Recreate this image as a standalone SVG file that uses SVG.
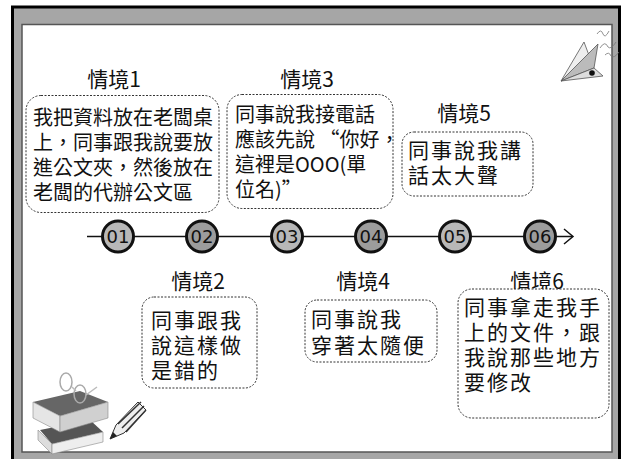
<svg xmlns="http://www.w3.org/2000/svg" width="625" height="459" viewBox="0 0 625 459">
  <style>
    .lbl { font-family: "Noto Sans CJK TC", "Noto Sans CJK SC", sans-serif; font-size: 21px; fill: #111; text-anchor: middle; }
    .txt { font-family: "Noto Sans CJK TC", "Noto Sans CJK SC", sans-serif; font-size: 20px; fill: #111; }
    .big { font-size: 21px; letter-spacing: 2px; }
    .box { fill: #fff; stroke: #333; stroke-width: 1; stroke-dasharray: 2 1.5; }
    .dot { stroke: #111; stroke-width: 3; }
    .light { fill: #b8b8b8; }
    .dark { fill: #9c9c9c; }
    .num { font-family: "DejaVu Sans", "Noto Sans", sans-serif; font-size: 18px; fill: #111; text-anchor: middle; }
  </style>

  <!-- frame -->
  <rect x="12.5" y="7" width="607" height="470" fill="#a6a6a6" stroke="#000" stroke-width="3"/>
  <rect x="22" y="24.5" width="590" height="427.5" fill="#fff" stroke="#555" stroke-width="1.5"/>

  <!-- connectors: timeline -->
  <g id="connectors">
    <line x1="87" y1="236.5" x2="572" y2="236.5" stroke="#111" stroke-width="1.5"/>
    <polyline points="564,229 573,236.5 564,244" fill="none" stroke="#111" stroke-width="1.5"/>
  </g>

  <g id="step01"><circle class="dot light" cx="118" cy="236.5" r="15.5"/><text class="num" x="118" y="243">01</text></g>
  <g id="step02"><circle class="dot dark" cx="202" cy="236.5" r="15.5"/><text class="num" x="202" y="243">02</text></g>
  <g id="step03"><circle class="dot light" cx="287" cy="236.5" r="15.5"/><text class="num" x="287" y="243">03</text></g>
  <g id="step04"><circle class="dot dark" cx="371" cy="236.5" r="15.5"/><text class="num" x="371" y="243">04</text></g>
  <g id="step05"><circle class="dot light" cx="455" cy="236.5" r="15.5"/><text class="num" x="455" y="243">05</text></g>
  <g id="step06"><circle class="dot dark" cx="540" cy="236.5" r="15.5"/><text class="num" x="540" y="243">06</text></g>

  <g id="case1">
    <text class="lbl" x="114" y="87">情境1</text>
    <rect class="box" x="26" y="95.5" width="193" height="117" rx="15"/>
    <text class="txt" x="33" y="125"><tspan x="33">我把資料放在老闆桌</tspan><tspan x="33" dy="25">上，同事跟我說要放</tspan><tspan x="33" dy="25">進公文夾，然後放在</tspan><tspan x="33" dy="25">老闆的代辦公文區</tspan></text>
  </g>

  <g id="case3">
    <text class="lbl" x="307" y="87">情境3</text>
    <rect class="box" x="227" y="94.5" width="166" height="114" rx="15"/>
    <text class="txt" x="235" y="122"><tspan x="235">同事說我接電話</tspan><tspan x="235" dy="25">應該先說 “你好，</tspan><tspan x="235" dy="25">這裡是OOO(單</tspan><tspan x="235" dy="25">位名)”</tspan></text>
  </g>

  <g id="case5">
    <text class="lbl" x="464" y="121">情境5</text>
    <rect class="box" x="402" y="132" width="131" height="64" rx="12"/>
    <text class="txt big" x="408" y="158"><tspan x="408">同事說我講</tspan><tspan x="408" dy="25">話太大聲</tspan></text>
  </g>

  <g id="case2">
    <text class="lbl" x="198" y="289">情境2</text>
    <rect class="box" x="142" y="297" width="115" height="91" rx="12"/>
    <text class="txt big" x="151" y="328"><tspan x="151">同事跟我</tspan><tspan x="151" dy="25">說這樣做</tspan><tspan x="151" dy="25">是錯的</tspan></text>
  </g>

  <g id="case4">
    <text class="lbl" x="363" y="289">情境4</text>
    <rect class="box" x="305" y="300" width="132" height="62" rx="12"/>
    <text class="txt big" x="311" y="327"><tspan x="311">同事說我</tspan><tspan x="311" dy="26">穿著太隨便</tspan></text>
  </g>

  <g id="case6">
    <text class="lbl" x="537" y="289">情境6</text>
    <rect class="box" x="458" y="289" width="151" height="129" rx="14"/>
    <text class="txt big" x="464" y="315"><tspan x="464">同事拿走我手</tspan><tspan x="464" dy="25">上的文件，跟</tspan><tspan x="464" dy="25">我說那些地方</tspan><tspan x="464" dy="25">要修改</tspan></text>
  </g>

  <!-- paper plane ornament -->
  <g id="plane" stroke="#555" stroke-width="0.8" stroke-linejoin="round">
    <polygon points="561,81 584,42 590,58" fill="#eee"/>
    <polygon points="561,81 598,44 594,68" fill="#bbb"/>
    <polygon points="561,81 594,68 603,76" fill="#ddd"/>
    <circle cx="592" cy="73" r="2.8" fill="#111" stroke="none"/>
    <path d="M597,34 q4,-6 6,0 q2,5 6,-3 M600,48 q5,-8 8,-1 q3,3 8,-5 M605,55 q4,-4 6,1 q3,3 8,-4" fill="none" stroke="#777"/>
  </g>

  <!-- books, glasses and pencil ornament -->
  <g id="books" stroke-linejoin="round">
    <polygon points="40,430 90,420 103,432 52,444" fill="#555"/>
    <polygon points="38,430 52,444 52,454 38,440" fill="#ddd" stroke="#888" stroke-width="0.6"/>
    <polygon points="52,444 103,432 103,442 52,454" fill="#eee" stroke="#888" stroke-width="0.6"/>
    <polygon points="33,402 80,391 108,402 60,416" fill="#666"/>
    <polygon points="33,402 60,416 60,432 33,418" fill="#e5e5e5" stroke="#888" stroke-width="0.6"/>
    <polygon points="60,416 108,402 108,418 60,432" fill="#d0d0d0" stroke="#888" stroke-width="0.6"/>
    <ellipse cx="66" cy="382" rx="6" ry="9" fill="none" stroke="#aaa" stroke-width="1.5"/>
    <ellipse cx="80" cy="394" rx="6" ry="9" fill="none" stroke="#aaa" stroke-width="1.5"/>
    <path d="M72,387 L76,391 M86,395 L97,387" fill="none" stroke="#bbb" stroke-width="1.5"/>
    <polygon points="110,439 116,425 138,402 146,410 124,433" fill="#eee" stroke="#333" stroke-width="1"/>
    <path d="M118,424 L141,402 M122,428 L144,406 M126,432 L146,410" stroke="#333" stroke-width="1.5" fill="none"/>
    <polygon points="110,439 113,432 117,436" fill="#222"/>
  </g>
</svg>
